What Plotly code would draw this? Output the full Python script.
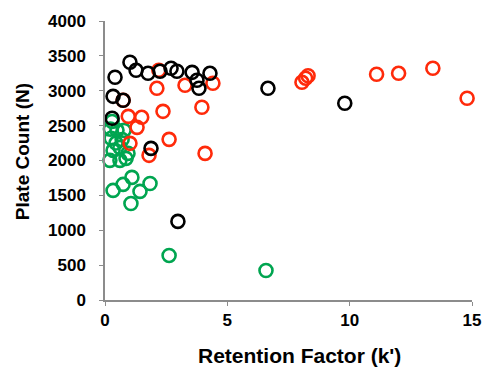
import plotly.graph_objects as go

# Black series
black_k = [1.02, 1.27, 1.76, 2.25, 2.70, 2.94, 3.56, 3.76, 3.84, 4.29, 0.41, 0.33, 0.74, 0.29, 1.88, 2.98, 6.66, 9.8]
black_n = [3408, 3293, 3250, 3279, 3322, 3279, 3264, 3150, 3035, 3250, 3193, 2920, 2863, 2605, 2174, 1127, 3035, 2820]

# Red series
red_k = [2.20, 2.12, 3.27, 4.41, 3.96, 0.74, 0.95, 1.50, 1.31, 2.37, 1.02, 1.80, 2.62, 4.09,
         8.05, 8.20, 8.30, 11.1, 12.0, 13.4, 14.8]
red_n = [3293, 3035, 3078, 3107, 2763, 2863, 2633, 2619, 2475, 2705, 2246, 2074, 2303, 2102,
         3121, 3180, 3215, 3236, 3250, 3322, 2892]

# Green series
green_k = [0.29, 0.49, 0.25, 0.78, 0.33, 0.61, 0.94, 0.20, 0.61, 0.86, 0.45, 0.70, 0.22,
           0.33, 0.74, 1.10, 1.43, 1.84, 1.06, 2.62, 6.58]
green_n = [2560, 2432, 2318, 2432, 2145, 2188, 2102, 2002, 2002, 2030, 2250, 2300, 2450,
           1571, 1657, 1758, 1557, 1671, 1384, 639, 423]

x_ticks = [0, 5, 10, 15]
y_ticks = [0, 500, 1000, 1500, 2000, 2500, 3000, 3500, 4000]
x_title = "Retention Factor (k')"
y_title = "Plate Count (N)"

FONT = "Arial, Liberation Sans, sans-serif"

def series(x, y, color):
    return go.Scatter(
        x=x, y=y, mode="markers", cliponaxis=False, showlegend=False,
        marker=dict(symbol="circle-open", size=13, color=color, line=dict(width=2.6, color=color)),
    )

fig = go.Figure()
fig.add_trace(series(green_k, green_n, "#00a550"))
fig.add_trace(series(red_k, red_n, "#ff2a0a"))
fig.add_trace(series(black_k, black_n, "#000000"))

fig.update_layout(
    width=484, height=368,
    margin=dict(l=105, r=12, t=21, b=68),
    paper_bgcolor="white", plot_bgcolor="white",
    font=dict(family=FONT, color="#000000"),
    xaxis=dict(
        range=[0, 15], tickvals=x_ticks, showgrid=False, zeroline=False, automargin=False,
        showline=True, linecolor="#8c8c8c", linewidth=1.5,
        ticks="outside", ticklen=4, tickcolor="#8c8c8c",
        tickfont=dict(size=17, family=FONT),
        ticktext=[f"<b>{v}</b>" for v in x_ticks],
    ),
    yaxis=dict(
        range=[0, 4000], tickvals=y_ticks, showgrid=False, zeroline=False, automargin=False,
        showline=True, linecolor="#8c8c8c", linewidth=1.5,
        ticks="outside", ticklen=4, tickcolor="#8c8c8c",
        tickfont=dict(size=17, family=FONT),
        ticktext=[f"<b>{v}</b>" for v in y_ticks],
        ticklabelstandoff=10,
    ),
    annotations=[
        dict(text=f"<b>{x_title}</b>", xref="paper", yref="paper", x=0.531, y=-0.2,
             xanchor="center", yanchor="middle", showarrow=False,
             font=dict(size=21, family=FONT, color="#000000")),
        dict(text=f"<b>{y_title}</b>", xref="paper", yref="paper", x=-0.226, y=0.53,
             xanchor="center", yanchor="middle", showarrow=False, textangle=-90,
             font=dict(size=19, family=FONT, color="#000000")),
    ],
)

fig.write_html(
    "out.html",
    config={"displayModeBar": False},
    post_script="document.body.style.margin='0';document.body.style.overflow='hidden';",
)
